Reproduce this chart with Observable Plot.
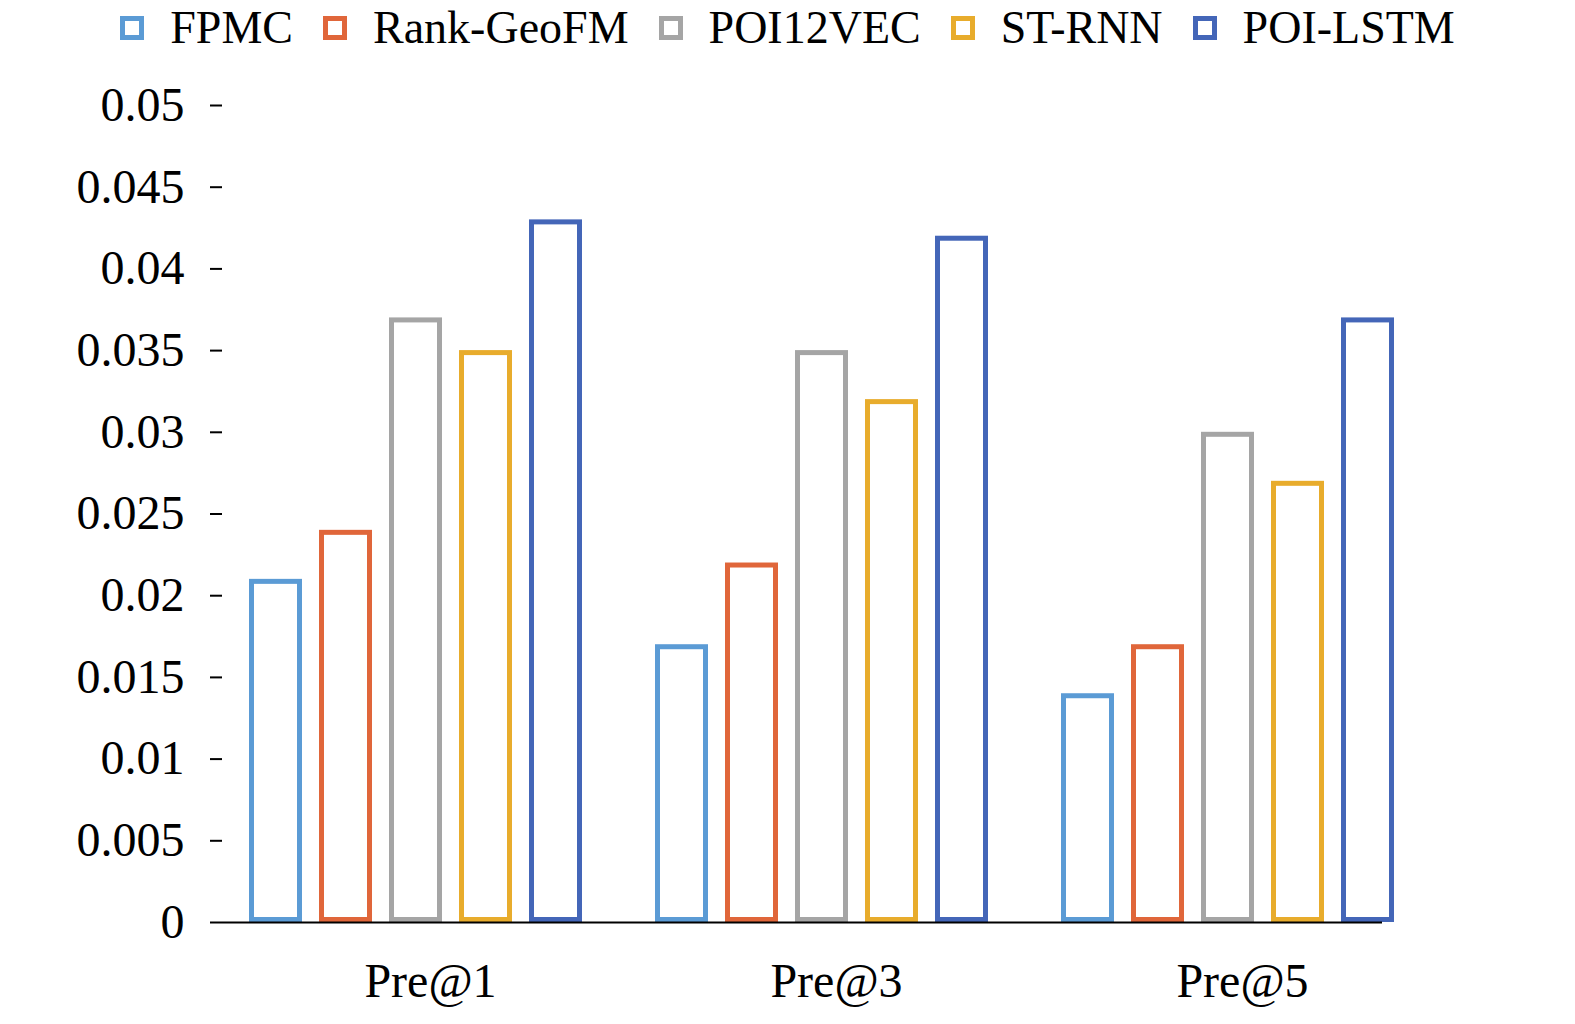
<!DOCTYPE html>
<html><head><meta charset="utf-8">
<script src="https://cdn.jsdelivr.net/npm/d3@7"></script>
<script src="https://cdn.jsdelivr.net/npm/@observablehq/plot@0.6"></script>
<style>
body{margin:0;background:#fff;font-family:"Liberation Serif","DejaVu Serif",serif;}
#legend{height:55px;display:flex;justify-content:center;align-items:center;font-size:46px;padding-left:30px}
#legend span{display:flex;align-items:center;margin-right:30px}
#legend i{display:inline-block;width:24px;height:24px;border:5px solid;margin-right:26px;box-sizing:border-box}
</style></head><body>
<div id="legend"></div>
<div id="chart"></div>
<script>
const groups = ["Pre@1","Pre@3","Pre@5"];
const series = ["FPMC","Rank-GeoFM","POI12VEC","ST-RNN","POI-LSTM"];
const colors = ["#5b9bd5","#e0663a","#a5a5a5","#e8ac2c","#4466b8"];
const values = [
  [0.021,0.024,0.037,0.035,0.043],
  [0.017,0.022,0.035,0.032,0.042],
  [0.014,0.017,0.030,0.027,0.037]
];
const yTicks = [0,0.005,0.01,0.015,0.02,0.025,0.03,0.035,0.04,0.045,0.05];
const data = [];
groups.forEach((g,i)=>series.forEach((s,j)=>data.push({group:g,series:s,value:values[i][j]})));

const lg = document.getElementById("legend");
series.forEach((s,j)=>{const e=document.createElement("span");e.innerHTML=`<i style="border-color:${colors[j]}"></i>${s}`;lg.appendChild(e);});

const chart = Plot.plot({
  width:1575, height:969,
  marginTop:50, marginBottom:102, marginLeft:213, marginRight:144,
  style:{fontFamily:"Liberation Serif, serif", fontSize:"48px", color:"#000"},
  fx:{domain:groups, padding:0, label:null, axis:null},
  x:{domain:series, paddingInner:0.24, paddingOuter:0.485, axis:null},
  y:{domain:[0,0.05], label:null, axis:null},
  color:{domain:series, range:colors},
  marks:[
    Plot.barY(data,{fx:"group",x:"series",y:"value",fill:"white",stroke:"series",strokeWidth:5,inset:2.5}),
    Plot.ruleY([{fx:"Pre@1"}],{fx:"fx",y:0,insetLeft:9,stroke:"#000",strokeWidth:2}),
    Plot.ruleY([{fx:"Pre@3"}],{fx:"fx",y:0,stroke:"#000",strokeWidth:2}),
    Plot.ruleY([{fx:"Pre@5"}],{fx:"fx",y:0,insetRight:49,stroke:"#000",strokeWidth:2}),
    Plot.ruleX([{fx:"Pre@1"}],{fx:"fx",frameAnchor:"left",dx:9,y1:0,y2:0.05,stroke:"#000",strokeWidth:2}),
    Plot.axisY({facetAnchor:"left",ticks:yTicks,tickFormat:d=>String(+d.toFixed(3)),tickSize:12,tickPadding:26,dx:9,strokeWidth:2,label:null}),
    Plot.axisFx({anchor:"bottom",tickSize:0,tickPadding:40,dx:14,label:null})
  ]
});
document.getElementById("chart").appendChild(chart);
</script></body></html>
